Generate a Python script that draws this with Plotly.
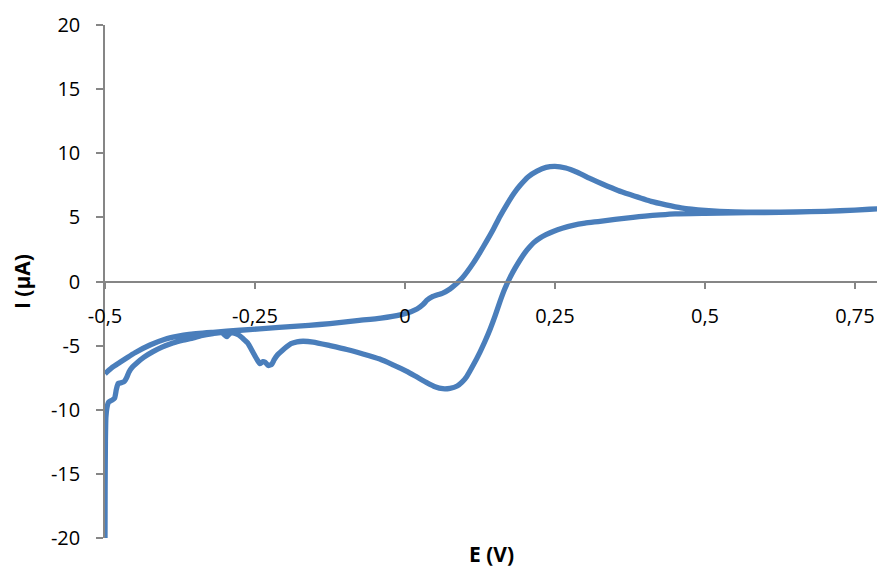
import plotly.graph_objects as go

# Cyclic voltammogram: anodic sweep from -0.5 V up, then the cathodic return sweep
anodic_E = [-0.500, -0.488, -0.475, -0.462, -0.450, -0.425, -0.400, -0.380, -0.360,
            -0.320, -0.275, -0.210, -0.160, -0.125, -0.080, -0.040, -0.008, 0.010,
            0.020, 0.030, 0.037, 0.045, 0.063, 0.075, 0.087, 0.095, 0.103, 0.114,
            0.125, 0.136, 0.147, 0.158, 0.170, 0.182, 0.192, 0.205, 0.220, 0.235,
            0.250, 0.268, 0.287, 0.310, 0.330, 0.355, 0.375, 0.410, 0.435, 0.460,
            0.500, 0.550, 0.600, 0.650, 0.700, 0.750, 0.800]
anodic_I = [-7.20, -6.70, -6.30, -5.90, -5.55, -4.95, -4.50, -4.28, -4.12,
            -3.96, -3.80, -3.58, -3.42, -3.28, -3.05, -2.85, -2.60, -2.35,
            -2.15, -1.80, -1.45, -1.20, -0.90, -0.58, -0.12, 0.25, 0.72, 1.45,
            2.27, 3.15, 4.06, 5.05, 6.02, 6.90, 7.50, 8.15, 8.60, 8.90,
            8.98, 8.85, 8.52, 8.00, 7.58, 7.10, 6.78, 6.25, 5.98, 5.75,
            5.55, 5.42, 5.40, 5.42, 5.47, 5.57, 5.70]

cathodic_E = [0.800, 0.750, 0.700, 0.650, 0.600, 0.550, 0.500, 0.450, 0.425, 0.400,
              0.380, 0.350, 0.325, 0.300, 0.280, 0.262, 0.247, 0.235, 0.225, 0.215,
              0.208, 0.200, 0.192, 0.183, 0.175, 0.166, 0.158, 0.150, 0.142, 0.133,
              0.125, 0.114, 0.103, 0.095, 0.087, 0.075, 0.063, 0.050, 0.037, 0.020,
              0.003, -0.020, -0.042, -0.070, -0.097, -0.125, -0.153, -0.170, -0.180,
              -0.190, -0.197, -0.205, -0.213, -0.218, -0.222, -0.228, -0.233, -0.237,
              -0.242, -0.247, -0.253, -0.262, -0.270, -0.278, -0.287, -0.292, -0.297,
              -0.305, -0.320, -0.340, -0.353, -0.370, -0.387, -0.405, -0.420, -0.435,
              -0.447, -0.455, -0.460, -0.464, -0.468, -0.472, -0.478, -0.481, -0.484,
              -0.488, -0.494, -0.497, -0.4985, -0.4993, -0.4998, -0.5000]
cathodic_I = [5.70, 5.57, 5.47, 5.42, 5.38, 5.35, 5.32, 5.28, 5.20, 5.10,
              5.00, 4.85, 4.69, 4.55, 4.38, 4.15, 3.90, 3.65, 3.40, 3.05,
              2.70, 2.25, 1.70, 1.00, 0.30, -0.60, -1.60, -2.70, -3.70, -4.70,
              -5.50, -6.50, -7.40, -7.85, -8.15, -8.33, -8.36, -8.20, -7.90, -7.45,
              -7.00, -6.50, -6.05, -5.65, -5.30, -5.00, -4.72, -4.66, -4.70,
              -4.85, -5.08, -5.40, -5.75, -6.10, -6.45, -6.55, -6.30, -6.25,
              -6.40, -6.05, -5.55, -4.80, -4.45, -4.15, -4.00, -4.05, -4.30,
              -4.00, -4.06, -4.22, -4.40, -4.58, -4.80, -5.12, -5.47, -5.90,
              -6.35, -6.70, -7.05, -7.50, -7.80, -7.88, -7.95, -8.40, -9.10,
              -9.25, -9.40, -9.90, -10.60, -12.50, -16.00, -20.00]

E = anodic_E + cathodic_E
I = anodic_I + cathodic_I

x_ticks = [-0.5, -0.25, 0, 0.25, 0.5, 0.75]
x_tick_text = ["-0,5", "-0,25", "0", "0,25", "0,5", "0,75"]
y_ticks = [-20, -15, -10, -5, 0, 5, 10, 15, 20]
y_tick_text = [str(v) for v in y_ticks]

FONT = "Open Sans"
AXIS_GREY = "#868686"

fig = go.Figure(
    go.Scatter(
        x=E, y=I, mode="lines",
        line=dict(color="#4A7EBB", width=5.3, shape="spline", smoothing=0.5),
        showlegend=False, hoverinfo="x+y",
    )
)

fig.update_layout(
    width=877, height=572,
    margin=dict(l=105, r=0, t=25, b=34),
    paper_bgcolor="white", plot_bgcolor="white",
    font=dict(family=FONT, size=20, color="black"),
    xaxis=dict(
        range=[-0.5, 0.7867],
        anchor="free", position=0.5,
        showline=True, linecolor=AXIS_GREY, linewidth=1.5,
        ticks="outside", ticklen=7, tickwidth=1.5, tickcolor=AXIS_GREY,
        tickvals=x_ticks, ticktext=x_tick_text,
        ticklabelstandoff=10,
        showgrid=False, zeroline=False,
    ),
    yaxis=dict(
        range=[-20, 20],
        showline=True, linecolor=AXIS_GREY, linewidth=1.5,
        ticks="outside", ticklen=7, tickwidth=1.5, tickcolor=AXIS_GREY,
        tickvals=y_ticks, ticktext=y_tick_text,
        ticklabelstandoff=12,
        showgrid=False, zeroline=False,
    ),
    annotations=[
        dict(text="<b>E (V)</b>", xref="paper", yref="paper",
             x=0.5, y=-0.031, xanchor="center", yanchor="middle",
             showarrow=False, font=dict(family=FONT, size=21, color="black")),
        dict(text="<b>I (µA)</b>", xref="paper", yref="paper",
             x=-0.108, y=0.5, xanchor="center", yanchor="middle",
             textangle=-90, showarrow=False,
             font=dict(family=FONT, size=21, color="black")),
    ],
)

fig.write_html("out.html")
